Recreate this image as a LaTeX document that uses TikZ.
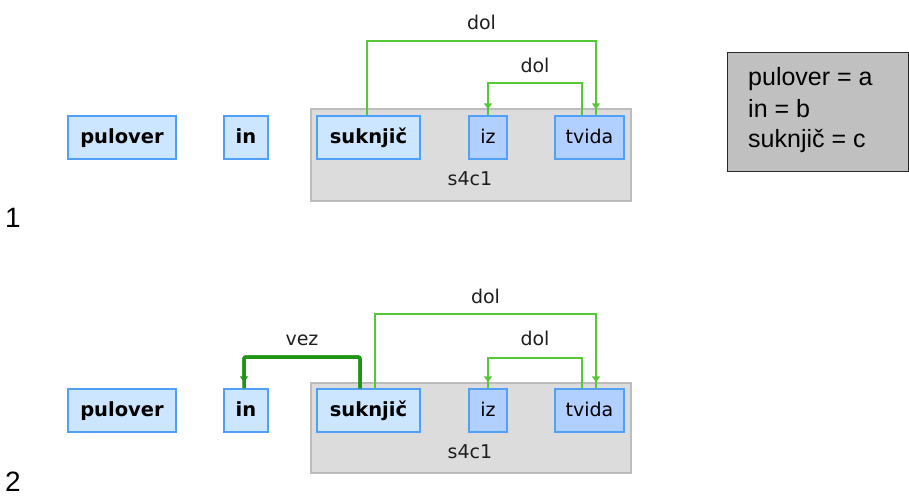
\documentclass[tikz,border=0pt]{standalone}
\usepackage{fontspec}
\setmainfont{DejaVu Sans}
\newfontfamily\keyfont{Liberation Sans}
\usetikzlibrary{arrows.meta}
\definecolor{boxfill}{RGB}{204,230,255}
\definecolor{boxline}{RGB}{80,160,250}
\definecolor{boxfilltwo}{RGB}{178,208,255}
\definecolor{grpfill}{RGB}{220,220,220}
\definecolor{grpline}{RGB}{188,188,188}
\definecolor{lgreen}{RGB}{85,200,55}
\definecolor{dgreen}{RGB}{30,150,20}
\definecolor{keyfill}{RGB}{192,192,192}
\definecolor{keyline}{RGB}{40,40,40}
\definecolor{txt}{RGB}{30,30,30}
\tikzset{
  ent/.style={draw=boxline, fill=boxfill, line width=1.5pt, minimum height=43pt, inner sep=0pt,
    text height=14pt, text depth=3pt, font=\fontsize{19.5}{21}\selectfont\bfseries},
  rel/.style={ent, fill=boxfilltwo, font=\fontsize{19}{21}\selectfont},
  grp/.style={draw=grpline, fill=grpfill, line width=1.5pt, inner sep=0pt},
  lbl/.style={anchor=base, font=\fontsize{19}{21}\selectfont, text=txt, inner sep=0pt},
  dolline/.style={draw=lgreen, line width=1.5pt},
  vezline/.style={draw=dgreen, line width=3.5pt, rounded corners=2pt},
  tipped/.style={postaction={draw, -{Triangle[length=6pt,width=8pt]}, shorten >=6pt}},
  keytxt/.style={anchor=base west, inner sep=0pt, font=\keyfont\fontsize{25}{30}\selectfont},
  num/.style={anchor=base west, inner sep=0pt, font=\keyfont\fontsize{28}{30}\selectfont},
}
\begin{document}
\begin{tikzpicture}[x=1pt,y=-1pt]
\useasboundingbox (0,0) rectangle (909,496);
% ---------- diagram 1 ----------
\node[grp, minimum width=320pt, minimum height=92pt] (g1) at (471,155) {};
\node[lbl] (g1l) at (470,185) {s4c1};
\node[ent, minimum width=108pt] (pul1) at (122,137.5) {pulover};
\node[ent, minimum width=44pt] (in1) at (246,137.5) {in};
\node[ent, minimum width=103pt] (suk1) at (368.5,137.5) {suknjič};
\node[rel, minimum width=38pt] (iz1) at (488,137.5) {iz};
\node[rel, minimum width=69pt] (tv1) at (589.5,137.5) {tvida};
\coordinate (a1) at ([xshift=-1.5pt]suk1.north);
\coordinate (b1) at ([xshift=6.5pt]tv1.north);
\coordinate (c1) at ([xshift=-7.5pt]tv1.north);
\draw[dolline, tipped] (a1) -- (a1 |- 0,41) -- node[lbl, yshift=12pt] (d1a) {dol} (b1 |- 0,41) -- (b1);
\draw[dolline, tipped] (c1) -- (c1 |- 0,83) -- node[lbl, yshift=11pt] (d1b) {dol} (iz1.north |- 0,83) -- (iz1.north);
\node[num] (n1) at (5,227) {1};
% ---------- key ----------
\node[draw=keyline, fill=keyfill, line width=1pt, minimum width=181pt, minimum height=119pt,
  anchor=north west, inner sep=0pt] (key) at (727,52) {};
\node[keytxt] (k1) at (748,85) {pulover = a};
\node[keytxt] (k2) at (748,117) {in = b};
\node[keytxt] (k3) at (748,147) {suknjič = c};
% ---------- diagram 2 ----------
\node[grp, minimum width=320pt, minimum height=90pt] (g2) at (471,428) {};
\node[lbl] (g2l) at (470,458) {s4c1};
\node[ent, minimum width=108pt] (pul2) at (122,410.5) {pulover};
\node[ent, minimum width=44pt] (in2) at (246,410.5) {in};
\node[ent, minimum width=103pt] (suk2) at (368.5,410.5) {suknjič};
\node[rel, minimum width=38pt] (iz2) at (488,410.5) {iz};
\node[rel, minimum width=69pt] (tv2) at (589.5,410.5) {tvida};
\coordinate (v2) at ([xshift=-8.5pt]suk2.north);
\coordinate (w2) at ([xshift=-2pt]in2.north);
\coordinate (a2) at ([xshift=6.5pt]suk2.north);
\coordinate (b2) at ([xshift=6.5pt]tv2.north);
\coordinate (c2) at ([xshift=-7.5pt]tv2.north);
\draw[vezline, tipped] (v2) -- (v2 |- 0,357) -- node[lbl, yshift=12pt] (vz) {vez} (w2 |- 0,357) -- (w2);
\draw[dolline, tipped] (a2) -- (a2 |- 0,314) -- node[lbl, yshift=11pt] (d2a) {dol} (b2 |- 0,314) -- (b2);
\draw[dolline, tipped] (c2) -- (c2 |- 0,358) -- node[lbl, yshift=13pt] (d2b) {dol} (iz2.north |- 0,358) -- (iz2.north);
\node[num] (n2) at (5,491) {2};
\end{tikzpicture}
\end{document}
